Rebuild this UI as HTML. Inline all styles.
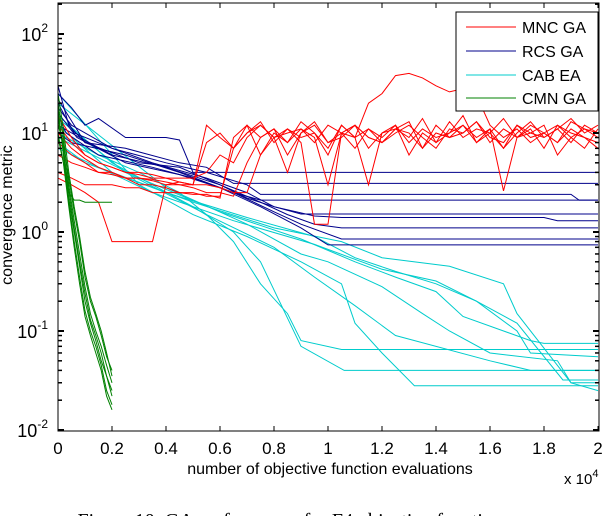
<!DOCTYPE html>
<html><head><meta charset="utf-8"><style>
html,body{margin:0;padding:0;background:#fff;}
svg{display:block;font-family:"Liberation Sans",sans-serif;}
</style></head><body>
<svg id="chart" width="606" height="516" viewBox="0 0 606 516" xmlns="http://www.w3.org/2000/svg">
<defs><clipPath id="pc"><rect x="58" y="3" width="541" height="428"/></clipPath></defs>
<rect x="0" y="0" width="606" height="516" fill="#fff"/>
<g id="series" clip-path="url(#pc)"></g>
<rect x="58" y="3" width="541" height="428" fill="none" stroke="#000" stroke-width="1"/>
<g id="ticks"></g>
<text x="330" y="474" text-anchor="middle" font-size="16">number of objective function evaluations</text>
<text x="564" y="484" font-size="15">x 10<tspan dy="-7" font-size="11">4</tspan></text>
<text transform="translate(12,215) rotate(-90)" text-anchor="middle" font-size="16">convergence metric</text>
<text x="310" y="527" text-anchor="middle" font-size="20" font-family="Liberation Serif, serif">Figure 10. GA performance for F4 objective function runs</text>
<g>
<rect x="456" y="12" width="142" height="99" fill="#fff" stroke="#000" stroke-width="1"/>
<g><line x1="466" y1="27" x2="516" y2="27" stroke="#f00"/><text x="522" y="33" font-size="16">MNC GA</text></g>
<g><line x1="466" y1="51" x2="516" y2="51" stroke="#00008b"/><text x="522" y="57" font-size="16">RCS GA</text></g>
<g><line x1="466" y1="75" x2="516" y2="75" stroke="#00cccc"/><text x="522" y="81" font-size="16">CAB EA</text></g>
<g><line x1="466" y1="98" x2="516" y2="98" stroke="#008000"/><text x="522" y="104" font-size="16">CMN GA</text></g>
</g>
</svg>
<script>
const xTicks=[0,2000,4000,6000,8000,10000,12000,14000,16000,18000,20000];
const xTickLabels=["0","0.2","0.4","0.6","0.8","1","1.2","1.4","1.6","1.8","2"];
const yDecades=[-2,-1,0,1,2];
const redGrid=[0,500,1000,1500,2000,2500,3000,3500,4000,4500,5000,5500,6000,6500,7000,7500,8000,8500,9000,9500,10000,10500,11000,11500,12000,12500,13000,13500,14000,14500,15000,15500,16000,16500,17000,17500,18000,18500,19000,19500,20000];
const red1=[6,5,4.5,4,3.8,3.5,3.5,3.4,3.2,3.0,3.0,8,10,7,12,9,11,6,10,13,8,9,12,7,10,11,9,14,8,10,12,9,11,7,10,13,9,11,8,12,10];
const red2=[3.5,3,2.5,2,0.8,0.8,0.8,0.8,3,3.2,3,3,2.8,2.5,2.5,6,9,4,10,12,8,10,7,11,9,12,6,10,8,13,9,11,10,7,12,9,10,8,11,9,7];
const red3=[12,8,6,5,4.5,4,4,3.8,3.5,3.5,3.5,4,6,5,9,12,9,10,11,8,12,10,9,20,25,38,40,36,30,26,28,24,12,9,11,8,10,12,9,7,11];
const red4=[8,6,5,4,4,3.5,3,3,2.8,2.5,2.5,2.3,2.3,7,10,12,9,11,8,1.2,1.2,10,12,9,8,11,13,7,10,9,12,8,10,14,9,11,7,12,10,9,8];
const red5=[10,7,5.5,4.5,4,3.5,3.5,3.3,3,3,2.8,2.5,2.5,2.3,5,9,11,8,13,10,7,12,9,3,10,12,8,11,9,10,15,8,11,2.6,9,12,10,8,13,11,9];
const red6=[4,3.5,3,3,3,2.8,2.8,2.5,2.5,2.5,2.4,2.4,2.2,9,12,6,10,8,11,9,3,10,12,9,8,11,10,7,12,9,10,13,8,11,9,10,12,6,9,11,10];
const red7=[15,9,6,5,4.5,4,3.8,3.5,3.5,3.2,3,12,9,7,10,13,8,11,9,10,6,12,9,11,8,10,12,9,7,11,10,13,9,8,12,10,9,11,14,10,12];
const blueE1=[0,500,1000,1500,2500,4000,4500,5000,20000], blueV1=[25,18,12,14,9,9,8.5,4.0,4.0];
const blueE2=[0,400,1000,2500,4500,5500,6500,20000], blueV2=[30,12,8,7,5,4.5,3.1,3.1];
const blueE3=[0,600,2000,4000,5500,7000,7500,19000,19300,20000], blueV3=[20,10,7,5,4,3,2.4,2.4,2.1,2.1];
const blueE4=[0,300,1500,3500,5000,6500,7500,8000,20000], blueV4=[15,10,6,4.5,3.5,2.5,2.1,2.1,2.1];
const blueE5=[0,800,2000,4000,6000,7000,8000,9000,20000], blueV5=[12,9,6,4.5,3,2.2,1.8,1.52,1.52];
const blueE6=[0,500,2000,3500,5500,7000,8000,9500,10500,18000,18500,20000], blueV6=[18,12,7,5,3.5,2.5,1.8,1.45,1.4,1.4,1.3,1.3];
const blueE7=[0,1000,3000,4500,6000,7500,8500,9500,10500,20000], blueV7=[22,8,5,4.5,3,2,1.5,1.2,1.1,1.1];
const blueE8=[0,500,2500,4500,6500,8000,9000,10500,20000], blueV8=[10,8,6,4,2.5,1.6,1.2,0.85,0.85];
const blueE9=[0,700,2500,4500,6000,7500,9000,10000,20000], blueV9=[16,9,5,3.8,2.8,1.8,1.1,0.74,0.74];
const cyanE1=[0,1500,3000,4500,5500,6500,7500,8500,9000,10500,20000], cyanV1=[10,6,4,2.5,1.5,0.8,0.3,0.15,0.08,0.065,0.065];
const cyanE2=[0,2000,3500,5000,6500,7500,8200,9000,10600,20000], cyanV2=[15,5,3,1.8,1,0.5,0.2,0.07,0.04,0.04];
const cyanE3=[0,3000,5000,7000,9000,10500,11000,12000,13200,20000], cyanV3=[25,3,1.5,0.9,0.5,0.3,0.12,0.06,0.028,0.028];
const cyanE4=[0,1000,4000,7000,9500,11000,12500,14000,15500,17000,17500,20000], cyanV4=[8,5,2.5,1.4,0.9,0.55,0.4,0.3,0.2,0.1,0.06,0.055];
const cyanE5=[0,2000,5000,8000,10500,12000,14500,16500,17000,19000,20000], cyanV5=[12,4,2,1.1,0.8,0.55,0.45,0.3,0.15,0.03,0.03];
const cyanE6=[0,4000,7000,9000,10000,12000,13500,14500,16000,18500,19000,20000], cyanV6=[20,2.8,1.2,0.6,0.5,0.28,0.15,0.1,0.06,0.05,0.03,0.025];
const cyanE7=[0,3000,6000,9000,11000,12500,14000,15000,17500,18000,20000], cyanV7=[9,3.5,1.6,0.85,0.5,0.35,0.25,0.14,0.08,0.075,0.075];
const cyanE8=[0,2500,5500,8000,9500,11000,12500,16000,17500,20000], cyanV8=[14,4,1.5,0.7,0.35,0.18,0.09,0.05,0.04,0.04];
const cyanE9=[0,3500,6500,9500,12000,14000,15500,17000,18700,20000], cyanV9=[7,2.5,1.3,0.75,0.42,0.32,0.2,0.12,0.032,0.032];
const greenE=[0,200,400,600,800,1000,1200,1400,1600,1800,2000];
const green1=[20,9,3,1.3,0.6,0.28,0.15,0.1,0.07,0.045,0.03];
const green2=[15,7,2.2,1,0.45,0.2,0.12,0.08,0.05,0.035,0.025];
const green3=[18,6,2,0.8,0.35,0.16,0.1,0.07,0.045,0.025,0.018];
const green4=[12,8,3.5,1.6,0.8,0.35,0.2,0.14,0.09,0.055,0.04];
const green5=[10,5,1.8,0.7,0.3,0.14,0.09,0.06,0.04,0.022,0.016];
const green6=[25,11,4,1.8,0.9,0.4,0.22,0.15,0.1,0.06,0.035];
const green7=[14,7,2.6,1.1,0.5,0.24,0.13,0.09,0.06,0.035,0.022];
const green8=[9,5,2.5,2.1,2.1,2.0,2.0,2.0,2.0,2.0,2.0];

const NS="http://www.w3.org/2000/svg";
const X0=58,X1=598,YB=430,DEC=99;
function sx(e){return X0+e/20000*(X1-X0);}
function sy(v){return YB-(Math.log10(v)+2)*DEC;}
const gS=document.getElementById('series');
function drawLine(es,vs,color,name){
  const p=document.createElementNS(NS,'polyline');
  p.setAttribute('points',es.map((e,i)=>sx(e).toFixed(1)+','+sy(vs[i]).toFixed(1)).join(' '));
  p.setAttribute('fill','none');p.setAttribute('stroke',color);p.setAttribute('stroke-width','1');
  
  
  gS.appendChild(p);
}
[[cyanE1,cyanV1],[cyanE2,cyanV2],[cyanE3,cyanV3],[cyanE4,cyanV4],[cyanE5,cyanV5],[cyanE6,cyanV6],[cyanE7,cyanV7],[cyanE8,cyanV8],[cyanE9,cyanV9]].forEach((s,i)=>drawLine(s[0],s[1],'#00cccc','cab-ea-run-'+(i+1)));
[[blueE1,blueV1],[blueE2,blueV2],[blueE3,blueV3],[blueE4,blueV4],[blueE5,blueV5],[blueE6,blueV6],[blueE7,blueV7],[blueE8,blueV8],[blueE9,blueV9]].forEach((s,i)=>drawLine(s[0],s[1],'#00008b','rcs-ga-run-'+(i+1)));
[red1,red2,red3,red4,red5,red6,red7].forEach((v,i)=>drawLine(redGrid,v,'#ff0000','mnc-ga-run-'+(i+1)));
[green1,green2,green3,green4,green5,green6,green7,green8].forEach((v,i)=>drawLine(greenE,v,'#008000','cmn-ga-run-'+(i+1)));

const gT=document.getElementById('ticks');
function ln(x1,y1,x2,y2,w){const l=document.createElementNS(NS,'line');l.setAttribute('x1',x1);l.setAttribute('y1',y1);l.setAttribute('x2',x2);l.setAttribute('y2',y2);l.setAttribute('stroke','#000');l.setAttribute('stroke-width',w||1);gT.appendChild(l);}
xTicks.forEach((t,i)=>{
  const x=sx(t);
  ln(x,431,x,426);ln(x,3,x,8);
  const tx=document.createElementNS(NS,'text');
  tx.setAttribute('x',x);tx.setAttribute('y',454);tx.setAttribute('text-anchor','middle');tx.setAttribute('font-size','17');
  tx.textContent=xTickLabels[i];
  
  
  gT.appendChild(tx);
});
yDecades.forEach(d=>{
  const y=sy(Math.pow(10,d));
  ln(58,y,64,y,2);ln(599,y,593,y,2);
  const tx=document.createElementNS(NS,'text');
  tx.setAttribute('x',48);tx.setAttribute('y',y+7);tx.setAttribute('text-anchor','end');tx.setAttribute('font-size','18');
  tx.innerHTML='10<tspan dy="-9" font-size="12">'+d+'</tspan>';
  
  
  gT.appendChild(tx);
  if(d<2){for(let m=2;m<=9;m++){const yy=sy(m*Math.pow(10,d));ln(58,yy,62,yy,1.5);ln(599,yy,595,yy,1.5);}}
  else{const yy=sy(200);ln(58,yy,62,yy,1.5);ln(599,yy,595,yy,1.5);}
});
</script>
</body></html>
